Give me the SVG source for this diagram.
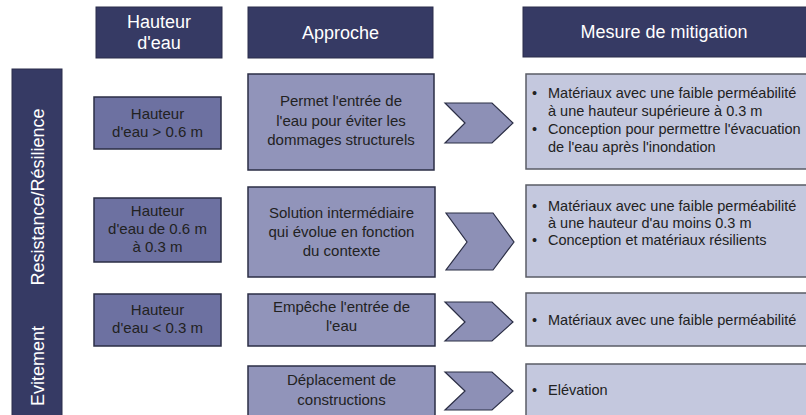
<svg xmlns="http://www.w3.org/2000/svg" width="806" height="415" viewBox="0 0 806 415">
<style>
text{font-family:"Liberation Sans",Arial,sans-serif}
.hdr{fill:#363a64;stroke:#2a2d4a;stroke-width:1}
.ht{fill:#fff;font-size:18px;text-anchor:middle}
.hb{fill:#6d71a1;stroke:#2b2e45;stroke-width:1.5}
.ab{fill:#9194ba;stroke:#2b2e45;stroke-width:1.5}
.mb{fill:#c4c8de;stroke:#5a5c66;stroke-width:1.5}
.bt{fill:#222;font-size:15px;text-anchor:middle}
.mt{fill:#222;font-size:14.5px}
.chev{fill:#8d90b6;stroke:#2b2e45;stroke-width:1.2;stroke-linejoin:miter}
</style>
<rect width="806" height="415" fill="#fff"/>

<g id="hdr-hauteur"><rect class="hdr" x="96" y="7" width="126" height="51"/>
<text class="ht" x="159" y="28">Hauteur</text><text class="ht" x="159" y="49">d'eau</text></g>
<g id="hdr-approche"><rect class="hdr" x="248" y="7" width="185" height="51"/>
<text class="ht" x="340.5" y="39">Approche</text></g>
<g id="hdr-mesure"><rect class="hdr" x="523" y="7" width="290" height="50"/>
<text class="ht" x="664" y="38">Mesure de mitigation</text></g>

<g id="side-bar"><rect class="hdr" x="12" y="69" width="50" height="350"/>
<text class="ht" transform="translate(43.5,197) rotate(-90)">Resistance/Résilience</text>
<text class="ht" transform="translate(43.5,366) rotate(-90)">Evitement</text></g>

<g id="h1"><rect class="hb" x="94" y="97" width="127" height="52"/>
<text class="bt" x="157.5" y="119">Hauteur</text><text class="bt" x="157.5" y="137">d'eau &gt; 0.6 m</text></g>
<g id="h2"><rect class="hb" x="94" y="198" width="127" height="64"/>
<text class="bt" x="157.5" y="216">Hauteur</text><text class="bt" x="157.5" y="234">d'eau de 0.6 m</text><text class="bt" x="157.5" y="252">à 0.3 m</text></g>
<g id="h3"><rect class="hb" x="94" y="294" width="127" height="52"/>
<text class="bt" x="157.5" y="315">Hauteur</text><text class="bt" x="157.5" y="333">d'eau &lt; 0.3 m</text></g>

<g id="a1"><rect class="ab" x="248" y="74" width="186" height="96"/>
<text class="bt" x="341" y="106">Permet l'entrée de</text><text class="bt" x="341" y="125.5">l'eau pour éviter les</text><text class="bt" x="341" y="145">dommages structurels</text></g>
<g id="a2"><rect class="ab" x="248" y="187" width="187" height="90"/>
<text class="bt" x="341.5" y="218">Solution intermédiaire</text><text class="bt" x="341.5" y="237">qui évolue en fonction</text><text class="bt" x="341.5" y="256">du contexte</text></g>
<g id="a3"><rect class="ab" x="248" y="294" width="187" height="52"/>
<text class="bt" x="341.5" y="312">Empêche l'entrée de</text><text class="bt" x="341.5" y="331">l'eau</text></g>
<g id="a4"><rect class="ab" x="248" y="366" width="187" height="60"/>
<text class="bt" x="341.5" y="385">Déplacement de</text><text class="bt" x="341.5" y="405">constructions</text></g>

<g id="connectors">
<polygon class="chev" points="445,103 492,103 513,123 492,143 445,143 465,123"/>
<polygon class="chev" points="446,213 493,213 514,242 493,270 446,270 467,242"/>
<polygon class="chev" points="445,302 492,302 513,322 492,341 445,341 465,322"/>
<polygon class="chev" points="445,372 492,372 513,391 492,410 445,410 465,391"/>
</g>

<g id="m1"><rect class="mb" x="526" y="74" width="290" height="95"/>
<text class="mt" x="532" y="98">•</text><text class="mt" x="548" y="98">Matériaux avec une faible perméabilité</text>
<text class="mt" x="548" y="116">à une hauteur supérieure à 0.3 m</text>
<text class="mt" x="532" y="134">•</text><text class="mt" x="548" y="134">Conception pour permettre l'évacuation</text>
<text class="mt" x="548" y="152">de l'eau après l'inondation</text></g>
<g id="m2"><rect class="mb" x="526" y="185" width="290" height="92"/>
<text class="mt" x="532" y="211">•</text><text class="mt" x="548" y="211">Matériaux avec une faible perméabilité</text>
<text class="mt" x="548" y="228">à une hauteur d'au moins 0.3 m</text>
<text class="mt" x="532" y="245">•</text><text class="mt" x="548" y="245">Conception et matériaux résilients</text></g>
<g id="m3"><rect class="mb" x="526" y="293" width="290" height="53"/>
<text class="mt" x="532" y="325">•</text><text class="mt" x="548" y="325">Matériaux avec une faible perméabilité</text></g>
<g id="m4"><rect class="mb" x="526" y="364" width="290" height="60"/>
<text class="mt" x="532" y="395">•</text><text class="mt" x="548" y="395">Elévation</text></g>
</svg>
